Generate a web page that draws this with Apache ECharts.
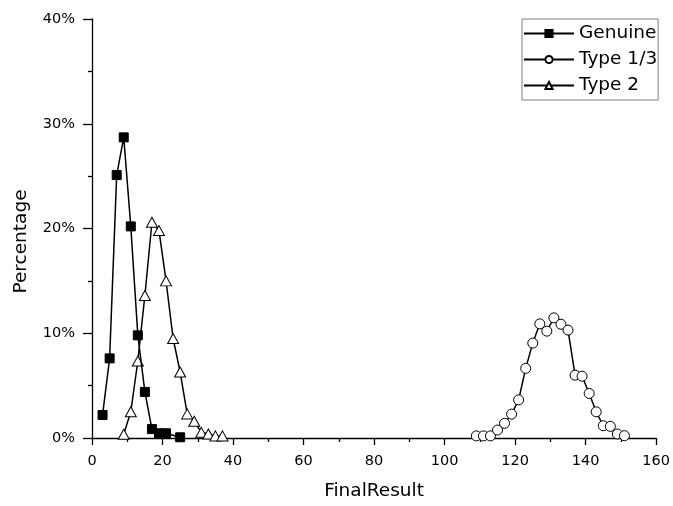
<!DOCTYPE html>
<html>
<head>
<meta charset="utf-8">
<script src="https://cdn.jsdelivr.net/npm/echarts@6/dist/echarts.min.js"></script>
<style>
html,body{margin:0;padding:0;background:#fff;}
#chart{width:673px;height:506px;}
</style>
</head>
<body>
<div id="chart"></div>
<script>
// Data (x = FinalResult, y = percentage)
var genuineX = [3, 5, 7, 9, 11, 13, 15, 17, 19, 21, 25];
var genuineY = [2.2, 7.6, 25.1, 28.7, 20.2, 9.8, 4.4, 0.85, 0.45, 0.45, 0.07];

var type13X = [109, 111, 113, 115, 117, 119, 121, 123, 125, 127, 129, 131, 133, 135, 137, 139, 141, 143, 145, 147, 149, 151];
var type13Y = [0.2, 0.2, 0.2, 0.76, 1.4, 2.28, 3.64, 6.65, 9.06, 10.9, 10.2, 11.47, 10.86, 10.3, 6.0, 5.9, 4.25, 2.5, 1.17, 1.11, 0.38, 0.22];

var type2X = [9, 11, 13, 15, 17, 19, 21, 23, 25, 27, 29, 31, 33, 35, 37];
var type2Y = [0.35, 2.5, 7.35, 13.6, 20.6, 19.8, 15.0, 9.5, 6.3, 2.3, 1.6, 0.54, 0.38, 0.2, 0.2];

var seriesNames = ['Genuine', 'Type 1/3', 'Type 2'];
var xTicks = {min: 0, max: 160, interval: 20};
var yTicks = {min: 0, max: 40, interval: 10};

function pairs(xs, ys) { return xs.map(function (x, i) { return [x, ys[i]]; }); }

var FONT = "'DejaVu Sans', sans-serif";
var chart = echarts.init(document.getElementById('chart'), null, {renderer: 'canvas'});
chart.setOption({
  animation: false,
  backgroundColor: '#fff',
  textStyle: {fontFamily: FONT, color: '#000'},
  grid: {left: 92, top: 19, right: 12, bottom: 67},
  legend: {
    orient: 'vertical', left: 522, top: 19,
    padding: [5, 1, 5, 1], itemGap: 7, itemWidth: 50, itemHeight: 9,
    borderColor: '#808080', borderWidth: 1, backgroundColor: '#fff',
    textStyle: {fontSize: 18.5, color: '#000', fontFamily: FONT},
    data: seriesNames
  },
  xAxis: {
    type: 'value', min: xTicks.min, max: xTicks.max, interval: xTicks.interval,
    name: 'FinalResult', nameLocation: 'middle', nameGap: 44,
    nameTextStyle: {fontSize: 18.5, color: '#000', fontFamily: FONT},
    axisLine: {show: true, onZero: false, lineStyle: {color: '#000', width: 1.3}},
    axisTick: {show: true, inside: false, length: 7, lineStyle: {color: '#000', width: 1.3}},
    minorTick: {show: true, splitNumber: 2, length: 4, lineStyle: {color: '#000', width: 1.3}},
    axisLabel: {fontSize: 14.5, color: '#000', margin: 16, fontFamily: FONT},
    splitLine: {show: false}
  },
  yAxis: {
    type: 'value', min: yTicks.min, max: yTicks.max, interval: yTicks.interval,
    name: 'Percentage', nameLocation: 'middle', nameGap: 61,
    nameTextStyle: {fontSize: 18.5, color: '#000', fontFamily: FONT, padding: [0, 26, 0, 0]},
    axisLine: {show: true, onZero: false, lineStyle: {color: '#000', width: 1.3}},
    axisTick: {show: true, inside: false, length: 9, lineStyle: {color: '#000', width: 1.3}},
    minorTick: {show: true, splitNumber: 2, length: 4, lineStyle: {color: '#000', width: 1.3}},
    axisLabel: {fontSize: 14.5, color: '#000', margin: 17, fontFamily: FONT, formatter: '{value}%'},
    splitLine: {show: false}
  },
  series: [
    {
      name: seriesNames[0], type: 'line', data: pairs(genuineX, genuineY),
      symbol: 'rect', symbolSize: 9, z: 3,
      lineStyle: {color: '#000', width: 1.5},
      itemStyle: {color: '#000', borderColor: '#000', borderWidth: 1}
    },
    {
      name: seriesNames[1], type: 'line', data: pairs(type13X, type13Y),
      symbol: 'circle', symbolSize: 10, z: 2,
      lineStyle: {color: '#000', width: 1.5},
      itemStyle: {color: '#fff', borderColor: '#000', borderWidth: 1}
    },
    {
      name: seriesNames[2], type: 'line', data: pairs(type2X, type2Y),
      symbol: 'triangle', symbolSize: [11, 10], z: 2,
      lineStyle: {color: '#000', width: 1.5},
      itemStyle: {color: '#fff', borderColor: '#000', borderWidth: 1}
    }
  ]
});
</script>
</body>
</html>
